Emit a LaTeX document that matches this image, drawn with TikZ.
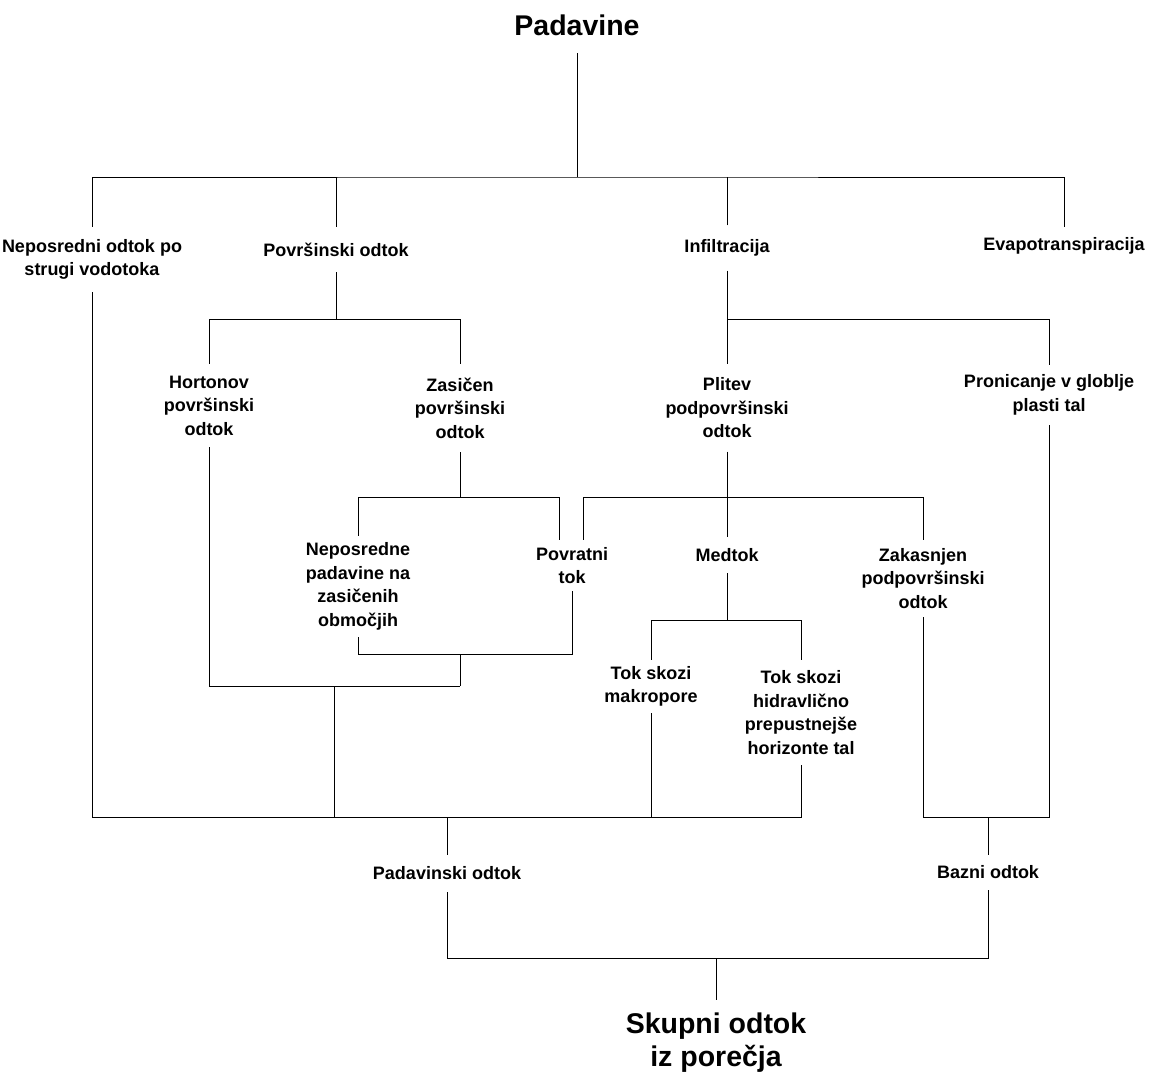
\documentclass[tikz,border=0pt]{standalone}
\usepackage{fontspec}
\setmainfont{Liberation Sans}
\usepackage{tikz}
\tikzset{
	x=1pt, y=-1pt, % pixel grid, y downwards
	line width=1.3pt,
	lbl/.style={align=center, inner xsep=2pt, inner ysep=0pt,
		font=\fontsize{18pt}{23.5pt}\selectfont\bfseries},
	ttl/.style={align=center, inner xsep=2pt, inner ysep=0pt,
		font=\fontsize{28.5pt}{33pt}\selectfont\bfseries},
}
\begin{document}
\begin{tikzpicture}
      \useasboundingbox (0,0) rectangle (1155,1080);
      % nodes, minimum height = gap between line ends
      \node[ttl, minimum height=56pt] (pad) at (577,25) {Padavine};
      \node[lbl, minimum height=65pt] (nep) at (92,259.5) {Neposredni odtok po\\strugi vodotoka};
      \node[lbl, minimum height=45pt] (pov) at (336,249.5) {Površinski odtok};
      \node[lbl, minimum height=45pt] (inf) at (727,248) {Infiltracija};
      \node[lbl, minimum height=38pt] (evap) at (1064,246) {Evapotranspiracija};
      \node[lbl, minimum height=83pt] (hort) at (209,405.5) {Hortonov\\površinski\\odtok};
      \node[lbl, minimum height=88pt] (zas) at (460,408) {Zasičen\\površinski\\odtok};
      \node[lbl, minimum height=87pt] (plit) at (727,408) {Plitev\\podpovršinski\\odtok};
      \node[lbl, minimum height=60pt] (pron) at (1049,395) {Pronicanje v globlje\\plasti tal};
      \node[lbl, minimum height=101pt] (nepp) at (358,586.5) {Neposredne\\padavine na\\zasičenih\\območjih};
      \node[lbl, minimum height=51pt] (povr) at (572,565.5) {Povratni\\tok};
      \node[lbl, minimum height=36pt] (med) at (727,555) {Medtok};
      \node[lbl, minimum height=77pt] (zak) at (923,578.5) {Zakasnjen\\podpovršinski\\odtok};
      \node[lbl, minimum height=53pt] (makro) at (651,686.5) {Tok skozi\\makropore};
      \node[lbl, minimum height=105pt] (hidr) at (801,712.5) {Tok skozi\\hidravlično\\prepustnejše\\horizonte tal};
      \node[lbl, minimum height=37pt] (padav) at (447,873.5) {Padavinski odtok};
      \node[lbl, minimum height=35pt] (bazni) at (988,872.5) {Bazni odtok};
      \node[ttl, minimum height=86pt] (skup) at (716,1043) {Skupni odtok\\iz porečja};

      % splitting
      \coordinate (b1) at (577,177);
      \draw (pad) -- (b1);
      \draw (nep) |- (b1) -| (evap);
      \draw (pov) -- (pov |- b1);
      \draw (inf) -- (inf |- b1);

      \coordinate (b2) at (336,319);
      \draw (pov) -- (b2);
      \draw (hort) |- (b2) -| (zas);

      \coordinate (b3) at (727,319);
      \draw (inf) -- (plit);
      \draw (b3) -| (pron);

      \coordinate (b4) at (460,497);
      \draw (zas) -- (b4);
      \draw ([xshift=-13pt]povr.north) |- (b4) -| (nepp);

      \coordinate (b5) at (727,497);
      \draw (plit) -- (med);
      \draw ([xshift=11pt]povr.north) |- (b5) -| (zak);

      \coordinate (b6) at (727,620);
      \draw (med) -- (b6);
      \draw (makro) |- (b6) -| (hidr);

      % joining
      \coordinate (m1) at (460,654);
      \coordinate (m2) at (460,686);
      \coordinate (m3) at (334,686);
      \coordinate (m4) at (447,817);
      \coordinate (m5) at (988,817);
      \coordinate (m6) at (716,958);
      \draw (nepp) |- (m1) -| (povr);
      \draw (m1) -- (m2);
      \draw (hort) |- (m2);
      \draw (m3) -- (m3 |- m4);
      \draw (nep) |- (m4) -| (hidr);
      \draw (makro) -- (makro |- m4);
      \draw (padav) -- (m4);
      \draw (zak) |- (m5) -| (pron);
      \draw (bazni) -- (m5);
      \draw (padav) |- (m6) -| (bazni);
      \draw (skup) -- (m6);
    \end{tikzpicture}
\end{document}
